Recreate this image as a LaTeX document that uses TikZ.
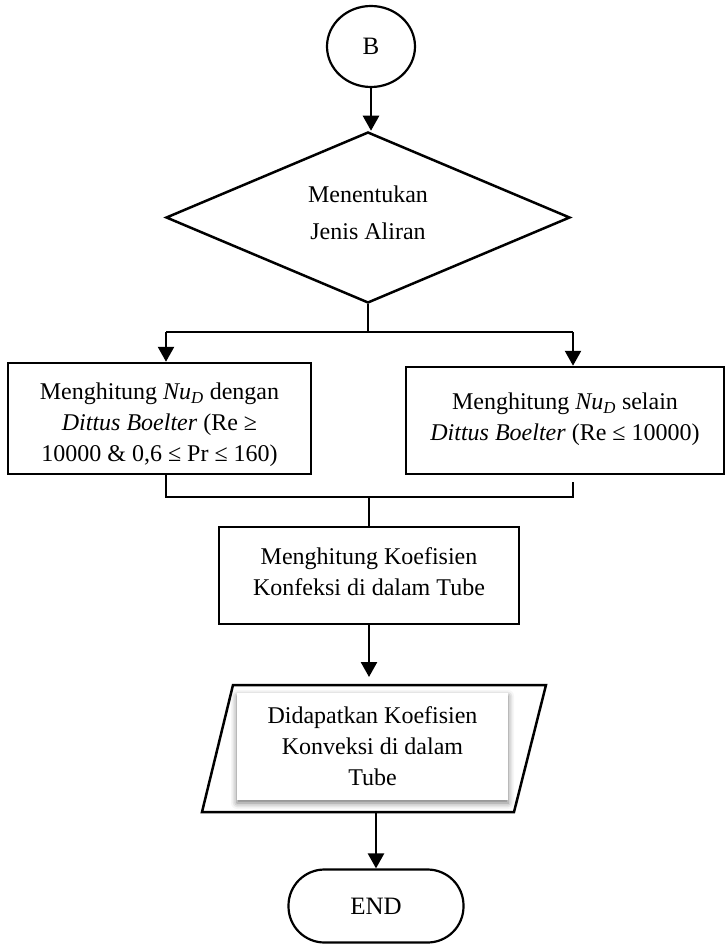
\documentclass[tikz,border=0pt]{standalone}
\usepackage{fontspec}
\setmainfont{Liberation Serif}
\usetikzlibrary{arrows.meta,shapes.geometric,shadows.blur}
\begin{document}
\begin{tikzpicture}[x=1pt,y=-1pt,
  font=\fontsize{24}{31}\selectfont,
  line width=2.5pt,
  box/.style={draw, rectangle, align=center, inner sep=0pt},
  arr/.style={-{Triangle[length=15pt,width=16pt]}},
  txt/.style={align=center, inner sep=0pt}]
\useasboundingbox (0,0) rectangle (727,944);

% start connector circle
\node[draw, ellipse, minimum width=88pt, minimum height=81pt, inner sep=0pt, line width=2.2pt, font=\fontsize{25}{31}\selectfont] (B) at (371,46.5) {B};

% decision
\node[draw, diamond, minimum width=404pt, minimum height=171pt, inner sep=0pt] (D) at (368,217.5) {};
\node[txt, font=\fontsize{24}{37}\selectfont] (Dt) at (368,213) {Menentukan\\Jenis Aliran};
\draw[arr] (B.south) -- (B.south |- D.north);

% two process boxes
\node[box, minimum width=303pt, minimum height=111pt] (L) at (159.5,418.5) {};
\node[txt] (Lt) at (159.5,425) {Menghitung \textit{Nu}\textsubscript{\textit{D}} dengan\\\textit{Dittus Boelter} (Re ≥\\10000 \& 0,6 ≤ Pr ≤ 160)};
\node[box, minimum width=318pt, minimum height=107pt] (R) at (565,420.5) {};
\node[txt] (Rt) at (565,419) {Menghitung \textit{Nu}\textsubscript{\textit{D}} selain\\\textit{Dittus Boelter} (Re ≤ 10000)};

\coordinate (jl) at (166,332);
\coordinate (jr) at (573,332);
\draw (D.south) -- (D.south |- jl);
\draw (jl) -- (jr);
\draw[arr] (jl) -- (jl |- L.north);
\draw[arr] (jr) -- (jr |- R.north);

% merge
\coordinate (bl) at (166,497);
\coordinate (br) at (573,497);
\coordinate (rs) at (573,482);
\node[box, minimum width=300pt, minimum height=97pt] (M) at (369,575.5) {};
\node[txt] (Mt) at (369,572) {Menghitung Koefisien\\Konfeksi di dalam Tube};
\draw (bl |- L.south) -- (bl) -- (br) -- (rs);
\draw (M.north |- bl) -- (M.north);

% output parallelogram
\draw (233,685) -- (546,685) -- (514,812) -- (202,812) -- cycle;
\node[fill=white, inner sep=0pt, minimum width=271pt, minimum height=107pt,
  blur shadow={shadow xshift=0pt, shadow yshift=-3pt, shadow blur radius=6pt, shadow opacity=55}] (P) at (372.5,746.5) {};
\node[txt] (Pt) at (372.5,746.5) {Didapatkan Koefisien\\Konveksi di dalam\\Tube};
\coordinate (ptop) at (369,677);
\coordinate (pbot) at (376,812);
\draw[arr] (M.south) -- (ptop);

% terminator
\node[draw, rounded corners=36pt, minimum width=175pt, minimum height=73pt, inner sep=0pt, line width=2.2pt, font=\fontsize{25}{31}\selectfont] (E) at (376,906) {END};
\draw[arr] (pbot) -- (E.north);
\end{tikzpicture}
\end{document}
